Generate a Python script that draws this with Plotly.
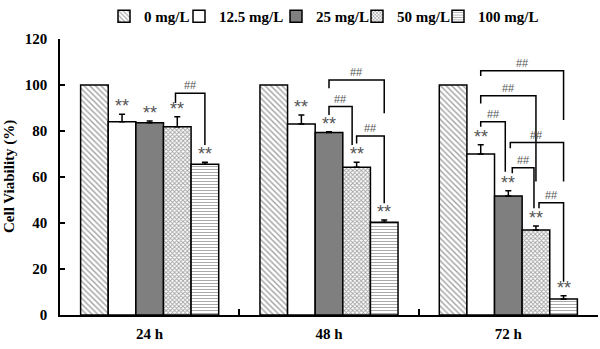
import plotly.graph_objects as go

categories = ["24 h", "48 h", "72 h"]
series_names = ["0 mg/L", "12.5 mg/L", "25 mg/L", "50 mg/L", "100 mg/L"]
v0 = [100, 100, 100]
v12 = [84.0, 83.0, 70.0]
v25 = [83.6, 79.3, 51.7]
v50 = [81.9, 64.2, 37.0]
v100 = [65.5, 40.3, 7.0]
e0 = [0, 0, 0]
e12 = [3.3, 4.0, 4.0]
e25 = [0.7, 0.4, 2.3]
e50 = [4.3, 2.2, 1.7]
e100 = [0.9, 1.0, 1.4]
stars = [["", "**", "**", "**", "**"]] * 3

# significance brackets: (category, left bar, right bar, top, left leg bottom, right leg bottom)
brackets = [
    (0, 3, 4, 96.4, 92.2, 73.9),
    (1, 2, 4, 102.2, 98.6, 87.7),
    (1, 2, 3, 90.6, 87.0, 73.9),
    (1, 3, 4, 77.8, 74.6, 48.6),
    (2, 1, 4, 106.2, 103.9, 84.8),
    (2, 1, 3, 95.3, 92.0, 58.0),
    (2, 1, 2, 84.0, 81.9, 62.3),
    (2, 2, 4, 75.0, 72.5, 58.0),
    (2, 2, 3, 64.0, 61.6, 46.4),
    (2, 3, 4, 48.8, 46.4, 14.5),
]
leg_nudge = {(1, 2, 3): (0, -0.025), (2, 1, 2): (0, -0.017), (2, 2, 4): (0.011, 0),
             (2, 2, 3): (0.022, -0.011), (2, 3, 4): (0.017, 0), (0, 3, 4): (-0.01, 0)}

values = [v0, v12, v25, v50, v100]
errors = [e0, e12, e25, e50, e100]
fills = ["white", "white", "#7f7f7f", "white", "white"]
patterns = [
    dict(shape="\\", size=4, solidity=0.35, fgcolor="#444444"),
    dict(shape=""),
    dict(shape=""),
    dict(shape="x", size=3, solidity=0.5, fgcolor="#444444"),
    dict(shape="-", size=3, solidity=0.35, fgcolor="#555555"),
]
legend_left_px = [104, 179, 276, 357, 438]

SERIF = "Liberation Serif"
bargap = 0.23
w = (1 - bargap) / 5

fig = go.Figure()
for i, name in enumerate(series_names):
    lg = "legend" if i == 0 else f"legend{i + 1}"
    fig.add_trace(go.Bar(
        x=categories, y=values[i], name=f"<b>{name}</b>", legend=lg, showlegend=True,
        marker=dict(color=fills[i], line=dict(color="black", width=1.5), pattern=patterns[i]),
        error_y=dict(type="data", array=errors[i], arrayminus=[0, 0, 0], symmetric=False,
                     visible=any(e > 0 for e in errors[i]), color="black", thickness=1.5, width=3),
    ))

annotations = []
for c in range(3):
    for i in range(5):
        if stars[c][i]:
            annotations.append(dict(
                x=c + (i - 2) * w, y=values[i][c] + errors[i][c], xref="x", yref="y",
                text=stars[c][i], showarrow=False, yanchor="bottom", yshift=-4,
                font=dict(family="Liberation Sans", size=18, color="#555555")))

shapes = []
for (c, a, b, top, lb, rb) in brackets:
    na, nb = leg_nudge.get((c, a, b), (0, 0))
    xa = c + (a - 2) * w + na
    xb = c + (b - 2) * w + nb
    shapes.append(dict(type="path", xref="x", yref="y",
                       path=f"M {xa} {lb} L {xa} {top} L {xb} {top} L {xb} {rb}",
                       line=dict(color="black", width=1.5)))
    annotations.append(dict(x=(xa + xb) / 2, y=top, xref="x", yref="y", text="##",
                            showarrow=False, yanchor="bottom", yshift=0,
                            font=dict(family="Liberation Sans", size=11, color="#555555")))

annotations.append(dict(x=(9 - 60) / 538, xref="paper", xanchor="center", y=0.5, yref="paper",
                        text="<b>Cell Viability (%)</b>", textangle=-90, showarrow=False,
                        font=dict(family=SERIF, size=15, color="black")))

legends = {}
for i in range(5):
    key = "legend" if i == 0 else f"legend{i + 1}"
    legends[key] = dict(orientation="h", x=legend_left_px[i] / 600, xref="container", xanchor="left",
                        y=1.0, yanchor="top", yref="container", itemwidth=30, visible=True,
                        font=dict(family=SERIF, size=15, color="black"), bgcolor="rgba(0,0,0,0)")

fig.update_layout(
    width=600, height=349, showlegend=True,
    margin=dict(l=60, r=2, t=39, b=34, autoexpand=False),
    plot_bgcolor="white", paper_bgcolor="white",
    barmode="group", bargap=bargap, bargroupgap=0,
    font=dict(family=SERIF, size=15, color="black"),
    shapes=shapes, annotations=annotations,
    xaxis=dict(type="category", range=[-0.5, 2.5], showline=True, linecolor="black", linewidth=1.5,
               ticks="inside", tickson="boundaries", ticklen=6, tickwidth=1.5, tickcolor="black",
               tickfont=dict(family=SERIF, size=15, color="black"), showgrid=False, automargin=False,
               tickprefix="<b>", ticksuffix="</b>", ticklabelstandoff=4),
    yaxis=dict(range=[0, 120], dtick=20, showline=True, linecolor="black", linewidth=1.5,
               ticks="inside", ticklen=5, tickwidth=1.5, tickcolor="black", showgrid=False, zeroline=False,
               tickfont=dict(family=SERIF, size=15, color="black"), automargin=False,
               tickprefix="<b>", ticksuffix="</b>", ticklabelstandoff=8),
    **legends,
)

fig.write_html("out.html", config={"displayModeBar": False},
               post_script="document.body.style.margin='0';")
